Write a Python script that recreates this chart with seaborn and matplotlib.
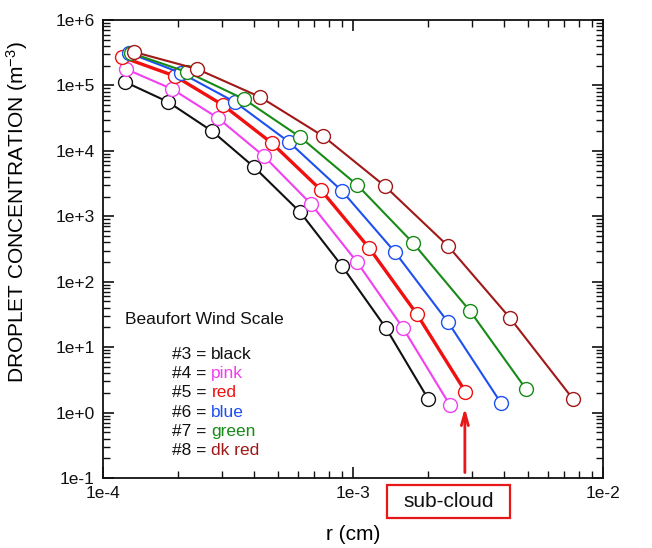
import numpy as np
import pandas as pd
import seaborn as sns
import matplotlib.pyplot as plt
from matplotlib.patches import Rectangle
from matplotlib.ticker import LogLocator, FixedLocator, FuncFormatter, NullFormatter

# (radius in cm, concentration in m^-3)
r_b3 = [1.225e-4, 1.82e-4, 2.73e-4, 4.02e-4, 6.14e-4, 9.04e-4, 1.355e-3, 2.0e-3]
n_b3 = [1.13e5, 5.6e4, 2.0e4, 5.65e3, 1.16e3, 173, 19.5, 1.6]

r_b4 = [1.236e-4, 1.89e-4, 2.88e-4, 4.4e-4, 6.79e-4, 1.037e-3, 1.585e-3, 2.44e-3]
n_b4 = [1.78e5, 8.8e4, 3.18e4, 8.3e3, 1.54e3, 200, 19.5, 1.3]

r_b5 = [1.19e-4, 1.94e-4, 3.02e-4, 4.74e-4, 7.45e-4, 1.16e-3, 1.80e-3, 2.81e-3]
n_b5 = [2.72e5, 1.39e5, 5.0e4, 1.31e4, 2.51e3, 327, 32, 2.1]

r_b6 = [1.27e-4, 2.05e-4, 3.37e-4, 5.55e-4, 9.04e-4, 1.47e-3, 2.40e-3, 3.91e-3]
n_b6 = [3.13e5, 1.55e5, 5.57e4, 1.36e4, 2.43e3, 284, 24, 1.39]

r_b7 = [1.294e-4, 2.17e-4, 3.66e-4, 6.14e-4, 1.04e-3, 1.74e-3, 2.94e-3, 4.92e-3]
n_b7 = [3.13e5, 1.6e5, 6.2e4, 1.63e4, 3.0e3, 389, 35.5, 2.28]

r_b8 = [1.33e-4, 2.38e-4, 4.25e-4, 7.59e-4, 1.34e-3, 2.40e-3, 4.25e-3, 7.59e-3]
n_b8 = [3.25e5, 1.78e5, 6.65e4, 1.68e4, 2.9e3, 350, 27.7, 1.6]

scale_names = ["#3", "#4", "#5", "#6", "#7", "#8"]
color_names = ["black", "pink", "red", "blue", "green", "dk red"]
colors = ["#111111", "#F040F0", "#F01010", "#1E50F0", "#178A17", "#A01818"]
widths = [1.5, 1.5, 2.4, 1.5, 1.5, 1.5]

radii = [r_b3, r_b4, r_b5, r_b6, r_b7, r_b8]
concs = [n_b3, n_b4, n_b5, n_b6, n_b7, n_b8]

plt.rcParams['font.family'] = ['Liberation Sans', 'DejaVu Sans']
plt.rcParams['mathtext.default'] = 'regular'

fig, ax = plt.subplots(figsize=(6.52, 5.48), dpi=100)
fig.subplots_adjust(left=0.158, right=0.925, top=0.9635, bottom=0.1277)

for name, r, n, c, lw in zip(scale_names, radii, concs, colors, widths):
    df = pd.DataFrame({"r": r, "n": n})
    sns.lineplot(data=df, x="r", y="n", ax=ax, color=c, lw=lw, marker="o",
                 markersize=10, markerfacecolor="white", markeredgecolor=c,
                 markeredgewidth=1.0, sort=False, legend=False)

ax.set_xscale("log")
ax.set_yscale("log")
ax.set_xlim(1e-4, 1e-2)
ax.set_ylim(1e-1, 1e6)

def sci(v, pos):
    e = int(round(np.log10(v)))
    return "1e%d" % e if e < 0 else "1e+%d" % e

ax.xaxis.set_major_locator(FixedLocator([1e-4, 1e-3, 1e-2]))
ax.yaxis.set_major_locator(FixedLocator([10.0 ** k for k in range(-1, 7)]))
ax.xaxis.set_major_formatter(FuncFormatter(lambda v, p: "1e%d" % int(round(np.log10(v)))))
ax.yaxis.set_major_formatter(FuncFormatter(sci))
ax.xaxis.set_minor_locator(LogLocator(base=10, subs=np.arange(2, 10)))
ax.yaxis.set_minor_locator(LogLocator(base=10, subs=np.arange(2, 10)))
ax.xaxis.set_minor_formatter(NullFormatter())
ax.yaxis.set_minor_formatter(NullFormatter())

ax.tick_params(which="both", direction="in", top=True, right=True, colors="#111111")
ax.tick_params(which="major", length=8, width=1.2, labelsize=12.5, pad=6)
ax.tick_params(which="minor", length=5, width=1.0)
for s in ax.spines.values():
    s.set_linewidth(1.3)
    s.set_color("#111111")

ax.set_xlabel("r (cm)", fontsize=15)
ax.xaxis.set_label_coords(0.5, -0.103)
ax.set_ylabel("DROPLET CONCENTRATION (m$^{-3}$)", fontsize=15)
ax.yaxis.set_label_coords(-0.146, 0.58)

# legend written as text
ax.text(0.044, 0.346, "Beaufort Wind Scale", transform=ax.transAxes,
        fontsize=12.5, va="center", ha="left", color="#111111")
y0, dy = 0.27, 0.042
for i, (name, cname, c) in enumerate(zip(scale_names, color_names, colors)):
    y = y0 - i * dy
    t = ax.text(0.138, y, name + " = ", transform=ax.transAxes, fontsize=12.5,
                va="center", ha="left", color="#111111")
    ax.annotate(cname, xycoords=t, xy=(1, 0.5), va="center", ha="left",
                fontsize=12.5, color=c)

# sub-cloud arrow and box
ax.annotate("", xy=(2.8e-3, 1.3), xytext=(2.8e-3, 0.11),
            arrowprops=dict(arrowstyle="->,head_length=0.9,head_width=0.25",
                            color="#E81818", lw=2))
ax.add_patch(Rectangle((0.568, -0.0873), 0.246, 0.072, transform=ax.transAxes,
                       fill=False, ec="#E81818", lw=1.6, clip_on=False))
ax.text(0.691, -0.051, "sub-cloud", transform=ax.transAxes, fontsize=15,
        ha="center", va="center", color="#111111")

fig.savefig("out.png", dpi=100)
